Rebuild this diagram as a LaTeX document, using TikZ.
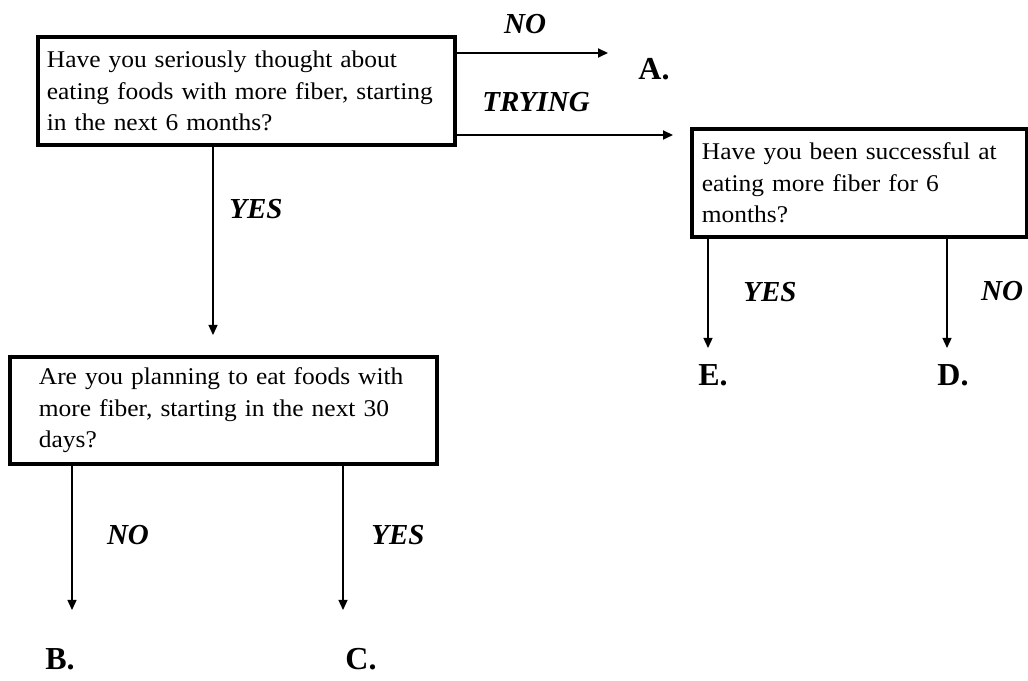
\documentclass[tikz,border=0pt]{standalone}
\usepackage{fontspec}
\setmainfont{Liberation Serif}
\newfontfamily\qfont{Liberation Serif}[FakeStretch=1.06]
\usetikzlibrary{arrows.meta}
\tikzset{
  qbox/.style={draw, line width=3.8pt, align=left, anchor=north west,
    font=\qfont\fontsize{24}{31.5}\selectfont, inner ysep=0pt},
  lbl/.style={font=\bfseries\itshape\fontsize{29}{29}\selectfont, inner sep=0pt},
  res/.style={font=\bfseries\fontsize{32}{32}\selectfont, inner sep=0pt},
  arr/.style={line width=1.3pt, -{Triangle[length=10pt,width=9pt]}},
  harr/.style={line width=1.8pt, -{Triangle[length=10pt,width=9pt]}}
}
\begin{document}
\begin{tikzpicture}[x=1pt,y=1pt]
\useasboundingbox (0,0) rectangle (1028,680);
% boxes
\node[qbox, minimum width=417pt, minimum height=108pt, inner xsep=9pt, text width=399pt] (b1) at (36,645)
  {\mbox{Have you seriously thought about}\\\mbox{eating foods with more fiber, starting}\\\mbox{in the next 6 months?}};
\node[qbox, minimum width=335pt, minimum height=108pt, inner xsep=10pt, text width=315pt] (b2) at (690,553)
  {\mbox{Have you been successful at}\\\mbox{eating more fiber for 6}\\\mbox{months?}};
\node[qbox, minimum width=427pt, minimum height=107pt, inner xsep=29pt, text width=369pt] (b3) at (8,325)
  {\mbox{Are you planning to eat foods with}\\\mbox{more fiber, starting in the next 30}\\\mbox{days?}};
% outcome letters
\node[res] (A) at (654,611) {A.};
\node[res] (B) at (60,21) {B.};
\node[res] (C) at (361,21) {C.};
\node[res] (D) at (953,305) {D.};
\node[res] (E) at (713,305) {E.};
% arrow tips
\coordinate (tNO) at (608,627);
\coordinate (tTR) at (673,545);
\coordinate (tY1) at (213,345);
\coordinate (tB) at (72,70);
\coordinate (tC) at (343,70);
\coordinate (tE) at (708,332);
\coordinate (tD) at (947,332);
% connectors
\draw[harr] (b1.east |- tNO) -- (tNO);
\draw[harr] (b1.east |- tTR) -- (tTR);
\draw[arr] (tY1 |- b1.south) -- (tY1);
\draw[arr] (tB |- b3.south) -- (tB);
\draw[arr] (tC |- b3.south) -- (tC);
\draw[arr] (tE |- b2.south) -- (tE);
\draw[arr] (tD |- b2.south) -- (tD);
% labels
\node[lbl] (lNO) at (525,656) {NO};
\node[lbl] (lTR) at (536,578) {TRYING};
\node[lbl] (lY1) at (256,471) {YES};
\node[lbl] (lNO3) at (128,145) {NO};
\node[lbl] (lY3) at (398,145) {YES};
\node[lbl] (lY2) at (770,388) {YES};
\node[lbl] (lNO2) at (1002,389) {NO};
\end{tikzpicture}
\end{document}
